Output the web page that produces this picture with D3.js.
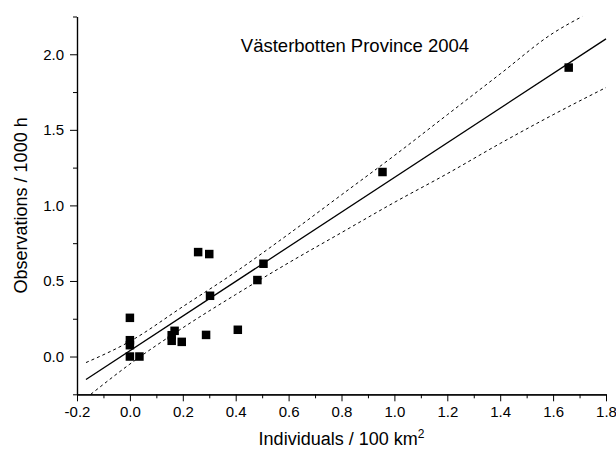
<!DOCTYPE html>
<html>
<head>
<meta charset="utf-8">
<script src="https://cdn.jsdelivr.net/npm/d3@7"></script>
<style>
  body { margin: 0; background: #fff; }
  svg text { font-family: 'Liberation Sans', Arial, sans-serif; fill: #000; }
</style>
</head>
<body>
<div id="chart"></div>
<script>
// Values
const individuals = [0.0, 0.0, 0.0, 0.0, 0.036, 0.158, 0.158, 0.169, 0.196, 0.258, 0.300, 0.303, 0.288, 0.408, 0.482, 0.505, 0.955, 1.659];
const observations = [0.256, 0.108, 0.075, 0.0, 0.0, 0.141, 0.104, 0.170, 0.097, 0.691, 0.678, 0.402, 0.143, 0.177, 0.506, 0.614, 1.221, 1.912];

// Regression line and its confidence band (x, y)
const fitLine = [[-0.166, -0.152], [1.8, 2.102]];
const upperBand = [[-0.166, -0.04], [0.0, 0.10], [0.2, 0.33], [0.4, 0.56], [0.6, 0.81], [0.8, 1.07], [1.0, 1.33], [1.2, 1.60], [1.4, 1.87], [1.6, 2.14], [1.71, 2.25]];
const lowerBand = [[-0.148, -0.25], [0.0, -0.05], [0.2, 0.19], [0.4, 0.41], [0.6, 0.62], [0.8, 0.82], [1.0, 1.02], [1.2, 1.21], [1.4, 1.41], [1.6, 1.60], [1.8, 1.78]];

const xTicks = [-0.2, 0, 0.2, 0.4, 0.6, 0.8, 1.0, 1.2, 1.4, 1.6, 1.8];
const xTickLabels = ['-0.2', '0.0', '0.2', '0.4', '0.6', '0.8', '1.0', '1.2', '1.4', '1.6', '1.8'];
const xMinorTicks = [-0.1, 0.1, 0.3, 0.5, 0.7, 0.9, 1.1, 1.3, 1.5, 1.7];
const yTicks = [0, 0.5, 1.0, 1.5, 2.0];
const yTickLabels = ['0.0', '0.5', '1.0', '1.5', '2.0'];
const yMinorTicks = [-0.25, 0.25, 0.75, 1.25, 1.75, 2.25];

const width = 616;
const height = 450;
const plot = { left: 77, right: 606, top: 16.5, bottom: 394.3 };

const svg = d3
  .select('#chart')
  .append('svg')
  .attr('width', width)
  .attr('height', height);

const x = d3.scaleLinear().domain([-0.2, 1.8]).range([plot.left, plot.right]);
const y = d3.scaleLinear().domain([-0.25, 2.25]).range([plot.bottom, plot.top]);

// Axes: major ticks with labels, minor ticks without
svg
  .append('g')
  .attr('transform', `translate(0,${plot.bottom})`)
  .call(
    d3.axisBottom(x)
      .tickValues(xTicks)
      .tickFormat((d, i) => xTickLabels[i])
      .tickSize(7)
      .tickSizeOuter(0)
      .tickPadding(5)
  );

svg
  .append('g')
  .attr('transform', `translate(0,${plot.bottom})`)
  .call(d3.axisBottom(x).tickValues(xMinorTicks).tickFormat('').tickSize(4).tickSizeOuter(0));

svg
  .append('g')
  .attr('transform', `translate(${plot.left},0)`)
  .call(
    d3.axisLeft(y)
      .tickValues(yTicks)
      .tickFormat((d, i) => yTickLabels[i])
      .tickSize(7)
      .tickSizeOuter(0)
      .tickPadding(6)
  );

svg
  .append('g')
  .attr('transform', `translate(${plot.left},0)`)
  .call(d3.axisLeft(y).tickValues(yMinorTicks).tickFormat('').tickSize(4).tickSizeOuter(0));

svg.selectAll('.domain').attr('stroke', '#000').attr('stroke-width', 1.2);
svg.selectAll('.tick line').attr('stroke', '#000').attr('stroke-width', 1);
svg.selectAll('.tick text').attr('font-size', '15px').attr('fill', '#000');

// Regression line and confidence band
const line = d3
  .line()
  .x((d) => x(d[0]))
  .y((d) => y(d[1]));

svg
  .append('path')
  .datum(fitLine)
  .attr('d', line)
  .attr('fill', 'none')
  .attr('stroke', '#000')
  .attr('stroke-width', 1.3);

[upperBand, lowerBand].forEach((band) => {
  svg
    .append('path')
    .datum(band)
    .attr('d', line.curve(d3.curveMonotoneX))
    .attr('fill', 'none')
    .attr('stroke', '#000')
    .attr('stroke-width', 1)
    .attr('stroke-dasharray', '3,3');
});

// Data points as filled squares
const sq = 8.5;
svg
  .selectAll('rect.point')
  .data(individuals)
  .enter()
  .append('rect')
  .attr('class', 'point')
  .attr('x', (d) => x(d) - sq / 2)
  .attr('y', (d, i) => y(observations[i]) - sq / 2)
  .attr('width', sq)
  .attr('height', sq)
  .attr('fill', '#000');

// Title and axis labels
svg
  .append('text')
  .attr('x', 355)
  .attr('y', 52)
  .attr('text-anchor', 'middle')
  .attr('font-size', '18.5px')
  .text('Västerbotten Province 2004');

const xLabel = svg
  .append('text')
  .attr('x', (plot.left + plot.right) / 2)
  .attr('y', 445)
  .attr('text-anchor', 'middle')
  .attr('font-size', '18px');
xLabel.append('tspan').text('Individuals / 100 km');
xLabel.append('tspan').attr('dy', -7).attr('font-size', '12px').text('2');

svg
  .append('text')
  .attr('transform', `translate(27,${(plot.top + plot.bottom) / 2}) rotate(-90)`)
  .attr('text-anchor', 'middle')
  .attr('font-size', '18px')
  .text('Observations / 1000 h');
</script>
</body>
</html>
